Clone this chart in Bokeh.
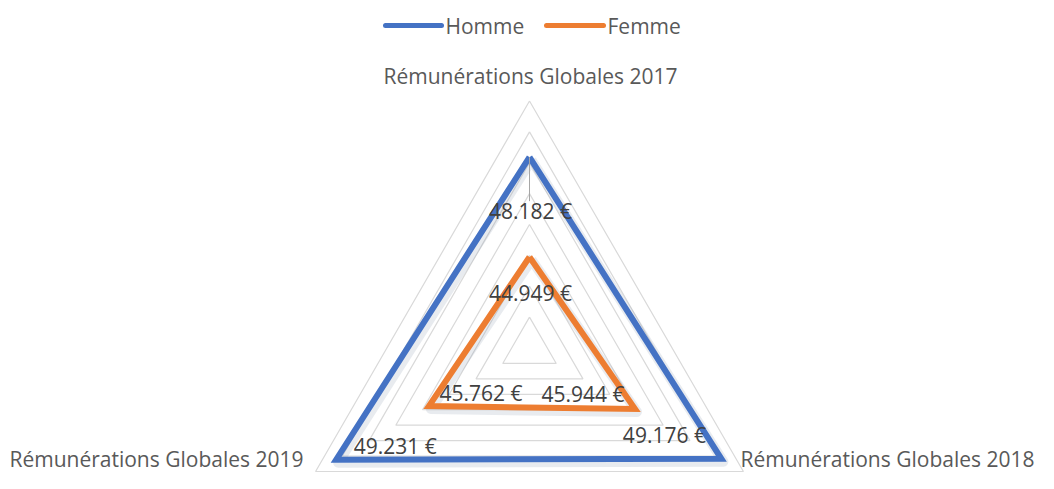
import numpy as np
from bokeh.plotting import figure
from bokeh.models import Range1d, ColumnDataSource
from bokeh.core.properties import value
from bokeh.embed import file_html
from bokeh.resources import INLINE

# ---- data ----
categories = ["Rémunérations Globales 2017", "Rémunérations Globales 2018", "Rémunérations Globales 2019"]
series_names = ["Homme", "Femme"]
homme = [48182, 49176, 49231]
femme = [44949, 45944, 45762]
homme_labels = ["48.182 €", "49.176 €", "49.231 €"]
femme_labels = ["44.949 €", "45.944 €", "45.762 €"]
axis_min, axis_max, axis_step = 42000, 50000, 1000

# ---- styling / layout ----
W, H = 1038, 473
R_PX = 247.0                       # radius of outer ring in px
angles = np.radians([90, -30, 210])  # clockwise from top
colors = ["#4472C4", "#ED7D31"]
FONT = value("Open Sans")

def radial(v):
    return (np.asarray(v, float) - axis_min) / (axis_max - axis_min) * R_PX

def polar(vals):
    r = radial(vals)
    return list(r * np.cos(angles)), list(r * np.sin(angles))

p = figure(width=W, height=H, output_backend="svg", toolbar_location=None,
           x_range=Range1d(-529, 509), y_range=Range1d(-125.5, 347.5),
           x_axis_location=None, y_axis_location=None, min_border=0,
           outline_line_color=None, background_fill_color="white")
p.grid.grid_line_color = None

# grid rings
levels = list(range(axis_min + axis_step, axis_max + 1, axis_step))
gx, gy = [], []
for lv in levels:
    xs, ys = polar([lv] * 3)
    gx.append(xs + xs[:1]); gy.append(ys + ys[:1])
p.multi_line(gx, gy, line_color="#d9d9d9", line_width=1.2)

# series
for vals, col in [(homme, colors[0]), (femme, colors[1])]:
    xs, ys = polar(vals)
    cx, cy = xs + xs[:1], ys + ys[:1]
    # soft shadow
    p.line([x + 2 for x in cx], [y - 3 for y in cy], line_color="#8090a8", line_alpha=0.18,
           line_width=10, line_join="round")
    p.line(cx, cy, line_color=col, line_width=6, line_join="miter")

# leader line for first label
hx, hy = polar(homme)
p.line([hx[0], hx[0]], [hy[0], hy[0] - 44], line_color="#a6a6a6", line_width=1)

# data labels (offsets in px relative to points)
h_off = [(1, -54), (-57, 24), (59, 14)]
f_off = [(1, -36), (-52, 15), (52, 13)]
for vals, labels, offs in [(homme, homme_labels, h_off), (femme, femme_labels, f_off)]:
    xs, ys = polar(vals)
    src = ColumnDataSource(dict(x=xs, y=ys, t=labels,
                                dx=[o[0] for o in offs], dy=[-o[1] for o in offs]))
    p.text(x="x", y="y", text="t", x_offset="dx", y_offset="dy", source=src,
           text_font=FONT, text_font_size="21px", text_color="#404040",
           text_align="center", text_baseline="middle")

# category labels (2017 top, 2018 bottom-right, 2019 bottom-left)
cat_x = [1, 505, -226]
cat_y = [272.5, -111, -111]
cat_align = ["center", "right", "right"]
for i, c in enumerate(categories):
    p.text(x=[cat_x[i]], y=[cat_y[i]], text=[c], text_font=FONT, text_font_size="21px",
           text_color="#595959", text_align=cat_align[i], text_baseline="middle")

# legend
leg_line_x = [(-144, -88), (17, 74)]
leg_y = 322.5
for name, col, (x0, x1) in zip(series_names, colors, leg_line_x):
    p.line([x0, x1], [leg_y, leg_y], line_color=col, line_width=5, line_cap="round")
    p.text(x=[x1 + 4], y=[leg_y], text=[name], text_font=FONT, text_font_size="21px",
           text_color="#595959", text_align="left", text_baseline="middle")

open("out.html", "w").write(file_html(p, INLINE))
